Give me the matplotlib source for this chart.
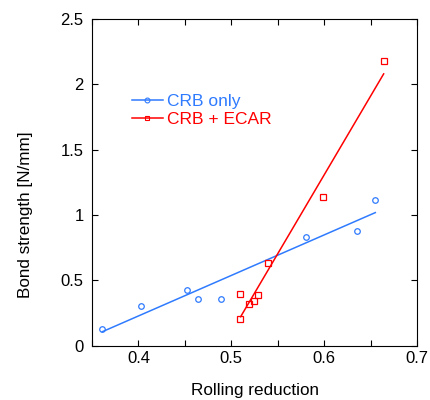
import matplotlib
matplotlib.use("Agg")
import matplotlib.pyplot as plt
from matplotlib.ticker import MultipleLocator

plt.rcParams['font.family'] = ['Liberation Sans', 'DejaVu Sans']

# CRB only
crb_x = [0.361, 0.403, 0.452, 0.464, 0.489, 0.580, 0.635, 0.655]
crb_y = [0.124, 0.305, 0.426, 0.359, 0.354, 0.834, 0.878, 1.113]
crb_fit_x = [0.361, 0.655]
crb_fit_y = [0.106, 1.018]

# CRB + ECAR
ecar_x = [0.509, 0.509, 0.519, 0.524, 0.529, 0.539, 0.599, 0.664]
ecar_y = [0.201, 0.392, 0.320, 0.344, 0.385, 0.630, 1.141, 2.179]
ecar_fit_x = [0.510, 0.664]
ecar_fit_y = [0.221, 2.080]

blue = '#2f7bff'
red = '#ff0000'

fig = plt.figure(figsize=(4.3, 4.0), dpi=100)
ax = fig.add_axes([0.214, 0.136, 0.756, 0.8165])

ax.plot(crb_x, crb_y, 'o', mfc='none', mec=blue, ms=4.0, mew=0.9)
ax.plot(crb_fit_x, crb_fit_y, '-', color=blue, lw=1.1)
ax.plot(ecar_x, ecar_y, 's', mfc='none', mec=red, ms=4.6, mew=0.9)
ax.plot(ecar_fit_x, ecar_fit_y, '-', color=red, lw=1.1)

# legend entries (line with small marker)
h1, = ax.plot([], [], '-o', color=blue, mfc='none', ms=3.5, lw=1.1, mew=0.8)
h2, = ax.plot([], [], '-s', color=red, mfc='none', ms=3.5, lw=1.1, mew=0.8)
leg = ax.legend([h1, h2], ['CRB only', 'CRB + ECAR'], loc='upper left',
                bbox_to_anchor=(0.122, 0.772), frameon=False, fontsize=12.5,
                handlelength=1.8, handletextpad=0.25, labelspacing=0.2,
                borderpad=0, borderaxespad=0)
for t, c in zip(leg.get_texts(), [blue, red]):
    t.set_color(c)

ax.set_xlim(0.35, 0.7)
ax.set_ylim(0, 2.5)
ax.xaxis.set_minor_locator(MultipleLocator(0.05))
ax.set_xticks([0.4, 0.5, 0.6, 0.7])
ax.set_xticklabels(['0.4', '0.5', '0.6', '0.7'])
ax.set_yticks([0, 0.5, 1, 1.5, 2, 2.5])
ax.set_yticklabels(['0', '0.5', '1', '1.5', '2', '2.5'])
ax.tick_params(which='both', direction='in', top=True, right=True,
               labelsize=12, width=0.8)
ax.tick_params(which='major', length=4)
ax.tick_params(axis='x', which='major', pad=4)
ax.tick_params(axis='y', which='major', pad=6)
ax.tick_params(which='minor', length=4)
for s in ax.spines.values():
    s.set_linewidth(0.8)

ax.set_xlabel('Rolling reduction', fontsize=12.3)
ax.set_ylabel('Bond strength [N/mm]', fontsize=12.3)
ax.xaxis.set_label_coords(0.5, -0.113)
ax.yaxis.set_label_coords(-0.183, 0.40)

fig.savefig('out.png', dpi=100)
